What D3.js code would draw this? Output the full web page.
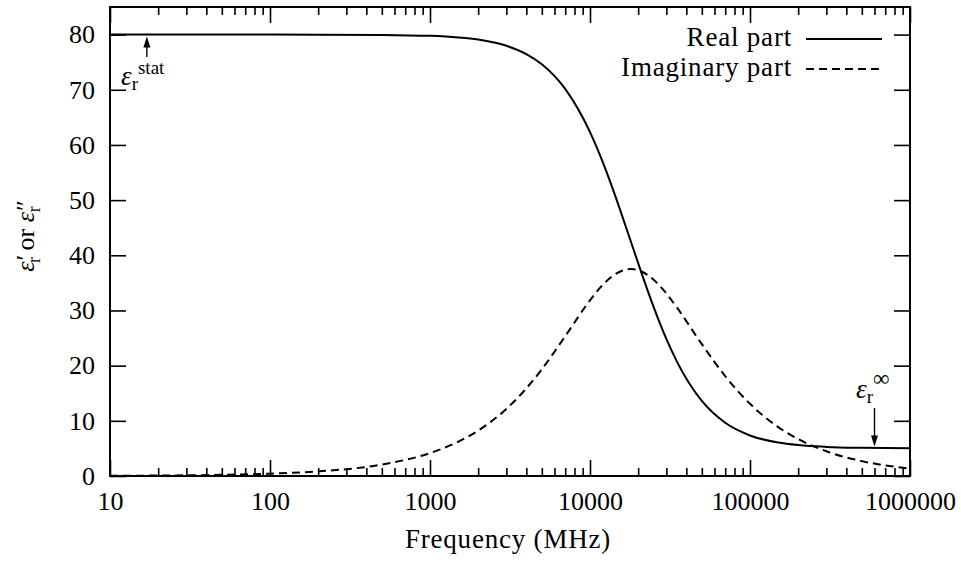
<!DOCTYPE html>
<html>
<head>
<meta charset="utf-8">
<script src="https://cdn.jsdelivr.net/npm/d3@7"></script>
<style>
  body { margin: 0; background: #fff; }
  svg text { font-family: "Liberation Serif", serif; fill: #000; }
  .tick text { font-size: 26px; }
  .tick line { stroke: #000; stroke-width: 1.6; }
</style>
</head>
<body>
<svg class="chart"></svg>
<script>
// frequencies in MHz
var freq = [10, 20, 50, 100, 200, 500, 1000, 1500, 2000, 3000, 4000, 5000, 7000, 10000, 12000,
            14000, 18000, 21000, 25000, 30000, 35000, 50000, 70000, 100000, 150000, 200000,
            300000, 500000, 1000000];
var realPart = [80, 80, 80, 80, 79.99, 79.94, 79.77, 79.48, 79.09, 77.97, 76.47, 74.63, 70.15, 62.31, 56.92,
                51.73, 42.5, 36.76, 30.6, 24.85, 20.69, 13.6, 9.65, 7.35, 6.06, 5.6,
                5.27, 5.1, 5.02];
var imagPart = [0.04, 0.08, 0.21, 0.42, 0.83, 2.08, 4.15, 6.21, 8.23, 12.16, 15.88, 19.34, 25.34, 31.84, 34.62,
                36.34, 37.5, 37.06, 35.56, 33.09, 30.5, 23.9, 18.09, 13.08, 8.87, 6.69,
                4.48, 2.7, 1.35];
var xTicks = [10, 100, 1000, 10000, 100000, 1000000];
var yTicks = [0, 10, 20, 30, 40, 50, 60, 70, 80];
var epsStat = 80, epsInf = 5;

var W = 961, H = 564,
    pLeft = 110, pRight = 910, pTop = 7, pBottom = 476;

var x = d3.scaleLog().domain([10, 1000000]).range([pLeft, pRight]);
var y = d3.scaleLinear().domain([0, 85]).range([pBottom, pTop]);

var svg = d3.select(".chart").attr("width", W).attr("height", H);

// minor ticks 2..9 per decade
var minor = [];
xTicks.slice(0, -1).forEach(function (d) {
  for (var k = 2; k < 10; k++) minor.push(d * k);
});

function clean(g) {
  g.select(".domain").remove();
  g.attr("font-family", null).attr("font-size", null);
}

svg.append("g").attr("transform", "translate(0," + pBottom + ")")
  .call(d3.axisBottom(x).tickValues(xTicks).tickFormat(d3.format("d"))
    .tickSizeInner(-16).tickSizeOuter(0).tickPadding(16))
  .call(clean);
svg.append("g").attr("transform", "translate(0," + pBottom + ")")
  .call(d3.axisBottom(x).tickValues(minor).tickFormat("").tickSizeInner(-8).tickSizeOuter(0))
  .call(clean);
svg.append("g").attr("transform", "translate(0," + pTop + ")")
  .call(d3.axisTop(x).tickValues(xTicks).tickFormat("").tickSizeInner(-16).tickSizeOuter(0))
  .call(clean);
svg.append("g").attr("transform", "translate(0," + pTop + ")")
  .call(d3.axisTop(x).tickValues(minor).tickFormat("").tickSizeInner(-8).tickSizeOuter(0))
  .call(clean);
svg.append("g").attr("transform", "translate(" + pLeft + ",0)")
  .call(d3.axisLeft(y).tickValues(yTicks).tickSizeInner(-16).tickSizeOuter(0).tickPadding(15))
  .call(clean);
svg.append("g").attr("transform", "translate(" + pRight + ",0)")
  .call(d3.axisRight(y).tickValues(yTicks).tickFormat("").tickSizeInner(-16).tickSizeOuter(0))
  .call(clean);

// curves
var line = function (vals) {
  return d3.line()
    .x(function (d, i) { return x(freq[i]); })
    .y(function (d) { return y(d); })
    .curve(d3.curveMonotoneX)(vals);
};

svg.append("path").attr("d", line(realPart))
  .attr("fill", "none").attr("stroke", "#000").attr("stroke-width", 2);
svg.append("path").attr("d", line(imagPart))
  .attr("fill", "none").attr("stroke", "#000").attr("stroke-width", 2)
  .attr("stroke-dasharray", "8,5");

// frame
svg.append("rect").attr("x", pLeft).attr("y", pTop)
  .attr("width", pRight - pLeft).attr("height", pBottom - pTop)
  .attr("fill", "none").attr("stroke", "#000").attr("stroke-width", 2);

// legend
var legend = [
  { label: "Real part", dash: null, y: 39 },
  { label: "Imaginary part", dash: "8,5", y: 69 }
];
legend.forEach(function (d) {
  svg.append("text").attr("x", 792).attr("y", d.y + 7)
    .attr("text-anchor", "end").attr("font-size", 27).attr("letter-spacing", 0.8)
    .text(d.label);
  svg.append("line").attr("x1", 806).attr("x2", 882).attr("y1", d.y).attr("y2", d.y)
    .attr("stroke", "#000").attr("stroke-width", 2).attr("stroke-dasharray", d.dash);
});

// axis titles
svg.append("text").attr("x", 508).attr("y", 548).attr("text-anchor", "middle")
  .attr("font-size", 27).attr("letter-spacing", 0.8).text("Frequency (MHz)");

var yl = svg.append("text").attr("transform", "translate(34,236) rotate(-90)")
  .attr("text-anchor", "middle").attr("font-size", 26);
yl.append("tspan").attr("font-style", "italic").text("ε");
yl.append("tspan").attr("dx", 1).text("′");
yl.append("tspan").attr("font-size", 18).attr("dx", -8).attr("dy", 6).text("r");
yl.append("tspan").attr("dy", -6).text(" or ");
yl.append("tspan").attr("font-style", "italic").text("ε");
yl.append("tspan").attr("dx", 1).text("″");
yl.append("tspan").attr("font-size", 18).attr("dx", -12).attr("dy", 6).text("r");

// annotations
function arrow(xv, y0, y1) {
  var dir = y1 > y0 ? 1 : -1;
  svg.append("line").attr("x1", xv).attr("x2", xv).attr("y1", y0).attr("y2", y1 - dir * 6)
    .attr("stroke", "#000").attr("stroke-width", 1.4);
  svg.append("path")
    .attr("d", "M" + xv + "," + y1 + "L" + (xv - 3.5) + "," + (y1 - dir * 11) +
               "L" + (xv + 3.5) + "," + (y1 - dir * 11) + "Z")
    .attr("fill", "#000");
}
arrow(x(17), 57, y(epsStat) + 2);
arrow(x(600000), 408, y(epsInf) - 2);

var a1 = svg.append("text").attr("x", 121).attr("y", 85).attr("font-size", 27);
a1.append("tspan").attr("font-style", "italic").text("ε");
a1.append("tspan").attr("font-size", 19).attr("dy", 5).text("r");
a1.append("tspan").attr("font-size", 19).attr("dx", 0).attr("dy", -16).text("stat");

var a2 = svg.append("text").attr("x", 856).attr("y", 398).attr("font-size", 27);
a2.append("tspan").attr("font-style", "italic").text("ε");
a2.append("tspan").attr("font-size", 19).attr("dy", 5).text("r");
a2.append("tspan").attr("font-size", 23).attr("dx", 0).attr("dy", -17).text("∞");
</script>
</body>
</html>
